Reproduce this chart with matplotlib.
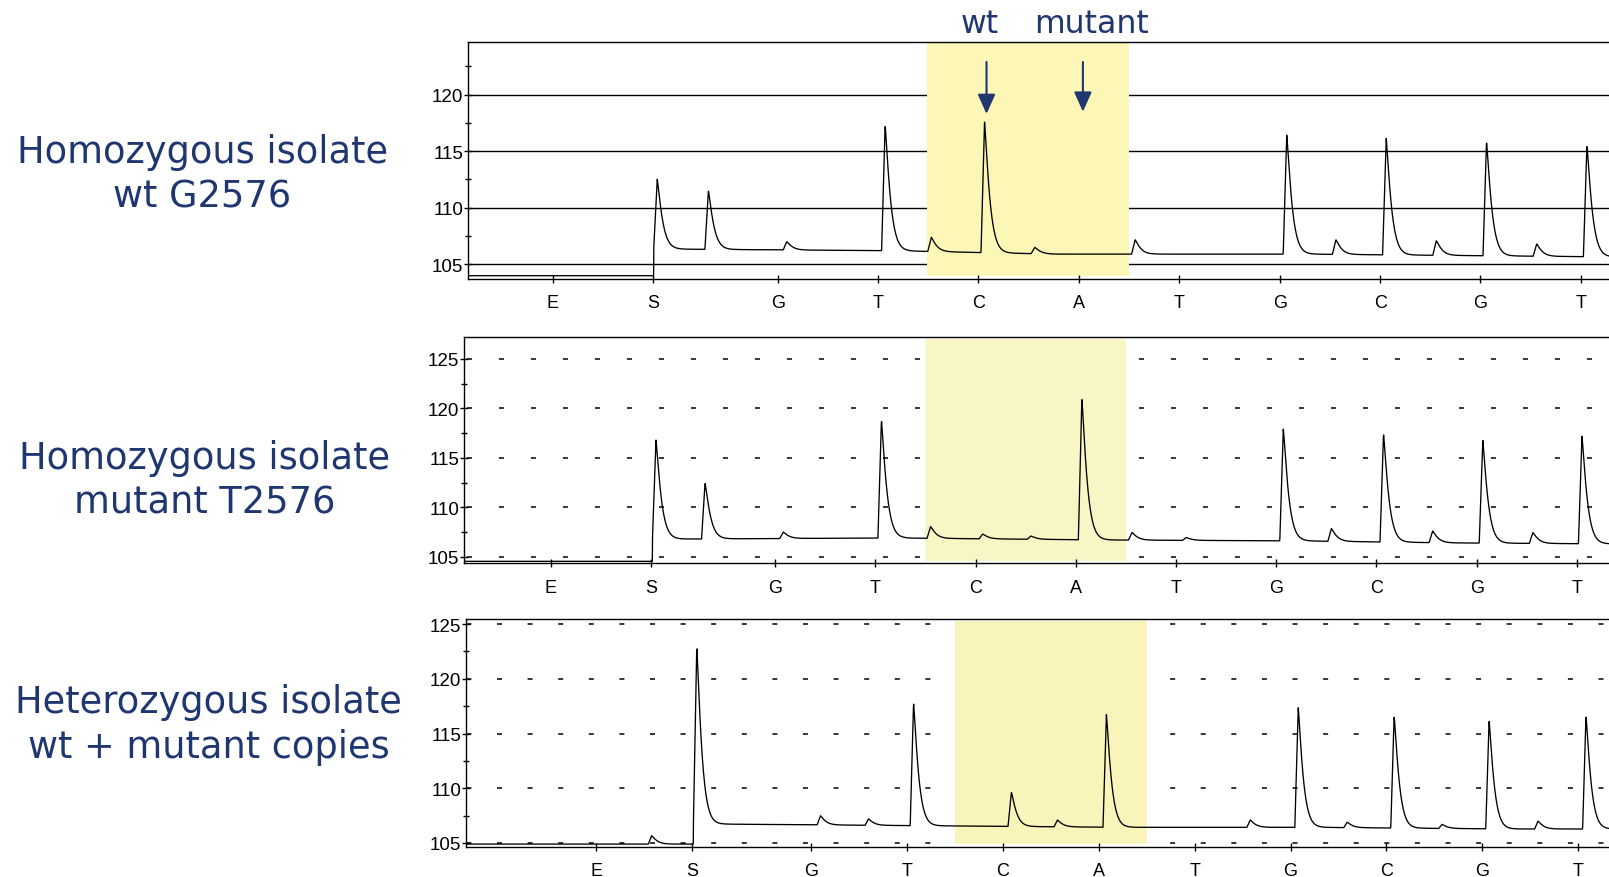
import numpy as np
import matplotlib
matplotlib.use("Agg")
import matplotlib.pyplot as plt
from matplotlib.ticker import MultipleLocator

plt.rcParams['lines.scale_dashes'] = False

navy = '#1f3670'

# dispensation order (x axis)
dispensation = ["E", "S", "G", "T", "C", "A", "T", "G", "C", "G", "T"]
disp_pos = [0, 1, 2.24, 3.24, 4.24, 5.24, 6.24, 7.24, 8.24, 9.24, 10.24]

row_labels = [("Homozygous isolate", "wt G2576"),
              ("Homozygous isolate", "mutant T2576"),
              ("Heterozygous isolate", "wt + mutant copies")]

# panel 1 - wt G2576 (apex position, apex value)
p1_peak_x = [1.04, 1.55, 2.33, 3.31, 3.77, 4.30, 4.80, 5.80, 7.31, 7.80, 8.30, 8.80, 9.30, 9.80, 10.30]
p1_peak_y = [112.54, 111.5, 107.0, 117.32, 107.39, 117.6, 106.5, 107.17, 116.43, 107.17, 116.23, 107.09, 115.84, 106.8, 115.55]
p1_pre = 103.99
p1_base_x = [1.1, 3.4, 5.0, 7.5, 10.6]
p1_base_y = [106.35, 106.2, 105.9, 105.9, 105.65]

# panel 2 - mutant T2576
p2_peak_x = [1.05, 1.54, 2.32, 3.30, 3.79, 4.31, 4.79, 5.30, 5.80, 6.34, 7.31, 7.79, 8.31, 8.80, 9.30, 9.80, 10.29]
p2_peak_y = [116.8, 112.47, 107.5, 118.8, 108.05, 107.3, 107.1, 121.0, 107.45, 106.95, 117.9, 107.85, 117.4, 107.6, 116.8, 107.45, 117.2]
p2_pre = 104.54
p2_base_x = [1.1, 3.4, 5.5, 7.5, 9.0, 10.6]
p2_base_y = [106.78, 106.9, 106.7, 106.6, 106.4, 106.3]

# panel 3 - wt + mutant
p3_peak_x = [0.58, 1.05, 2.34, 2.84, 3.31, 4.33, 4.81, 5.32, 6.82, 7.32, 7.83, 8.32, 8.82, 9.31, 9.82, 10.32]
p3_peak_y = [105.67, 122.93, 107.49, 107.2, 117.79, 109.63, 107.1, 116.78, 107.1, 117.39, 106.9, 116.63, 106.7, 116.17, 107.0, 116.63]
p3_pre = 104.9
p3_base_x = [1.1, 3.4, 5.5, 7.5, 9.5, 10.6]
p3_base_y = [106.74, 106.58, 106.43, 106.43, 106.28, 106.28]

RISE = 0.035
TAU = 0.059


def pyro_trace(x, pre, base_x, base_y, peak_x, peak_y):
    onset = peak_x[np.argmax(np.array(peak_x) > 0.9)] - RISE
    base = np.where(x < onset, pre, np.interp(x, base_x, base_y))
    y = base.copy()
    for px, py in zip(peak_x, peak_y):
        b = pre if px - RISE < onset else np.interp(px, base_x, base_y)
        t = x - px
        decay = np.exp(-(np.clip(t, 0, None) / TAU) ** 1.2)
        shape = np.where(t < -RISE, 0.0, np.where(t < 0, 1 + t / RISE, decay))
        y = y + (py - b) * shape
    return y


fig = plt.figure(figsize=(16.09, 8.78), dpi=100)

panels = [
    dict(rect=[0.2909, 0.6811, 0.7091, 0.2703], xlim=(-0.844, 10.52), ylim=(103.70, 124.69),
         yticks=[105, 110, 115, 120], pre=p1_pre, bx=p1_base_x, by=p1_base_y,
         px=p1_peak_x, py=p1_peak_y, span=(3.73, 5.74), yellow='#fcf7b6',
         grid='solid', period=None, offset=None, lab_y=(162.7, 207), lab_x=202.5),
    dict(rect=[0.2884, 0.3573, 0.7116, 0.2574], xlim=(-0.865, 10.56), ylim=(104.34, 127.18),
         yticks=[105, 110, 115, 120, 125], pre=p2_pre, bx=p2_base_x, by=p2_base_y,
         px=p2_peak_x, py=p2_peak_y, span=(3.73, 5.74), yellow='#f9f6c6',
         grid='dash', period=23.04, offset=20.9, lab_y=(469, 513.5), lab_x=205),
    dict(rect=[0.2896, 0.0345, 0.7104, 0.2593], xlim=(-1.356, 10.56), ylim=(104.66, 125.46),
         yticks=[105, 110, 115, 120, 125], pre=p3_pre, bx=p3_base_x, by=p3_base_y,
         px=p3_peak_x, py=p3_peak_y, span=(3.74, 5.74), yellow='#f8f4ba',
         grid='dash', period=22.03, offset=21.74, lab_y=(713.5, 758.5), lab_x=208.8),
]

axes = []
for i, p in enumerate(panels):
    ax = fig.add_axes(p['rect'])
    axes.append(ax)
    ax.set_xlim(p['xlim'])
    ax.set_ylim(p['ylim'])
    for s in ['left', 'bottom', 'top']:
        ax.spines[s].set_linewidth(1.0)
    ax.spines['right'].set_visible(False)

    for yv in p['yticks']:
        if p['grid'] == 'solid':
            ax.axhline(yv, color='black', lw=1.0, zorder=1)
        else:
            ax.axhline(yv, color='black', lw=1.1, zorder=1,
                       linestyle=(p['offset'], (3.6, p['period'] - 3.6)))

    ax.axvspan(p['span'][0], p['span'][1], ymin=0.012, ymax=0.993,
               color=p['yellow'], lw=0, zorder=1.5)

    x = np.linspace(p['xlim'][0], p['xlim'][1], 5000)
    y = pyro_trace(x, p['pre'], p['bx'], p['by'], p['px'], p['py'])
    ax.plot(x, y, color='black', lw=0.95, zorder=3)

    ax.set_yticks(p['yticks'])
    ax.yaxis.set_minor_locator(MultipleLocator(2.5))
    ax.set_xticks(disp_pos, dispensation)
    ax.tick_params(axis='y', which='major', direction='inout', length=6, width=1,
                   pad=0.5, labelsize=13.5)
    ax.tick_params(axis='y', which='minor', direction='inout', length=5, width=1)
    ax.tick_params(axis='x', which='major', direction='inout', length=6, width=1,
                   pad=8, labelsize=13)
    for lab in ax.get_xticklabels() + ax.get_yticklabels():
        lab.set_fontfamily('Liberation Sans')

    l1, l2 = row_labels[i]
    fig.text(p['lab_x'] / 1609, 1 - p['lab_y'][0] / 878, l1, ha='center', va='baseline',
             fontsize=26.5, color=navy)
    fig.text(p['lab_x'] / 1609, 1 - p['lab_y'][1] / 878, l2, ha='center', va='baseline',
             fontsize=26.5, color=navy)

# wt / mutant markers on the first panel
ax1 = axes[0]
ax1.text(4.25, 125.55, "wt", ha='center', va='baseline', fontsize=22.7, color=navy)
ax1.text(5.37, 125.55, "mutant", ha='center', va='baseline', fontsize=22.7, color=navy)
for ax_x, tip in [(4.32, 118.3), (5.28, 118.5)]:
    ax1.annotate("", xy=(ax_x, tip), xytext=(ax_x, 122.9),
                 arrowprops=dict(arrowstyle="-|>,head_length=0.6,head_width=0.27",
                                 color=navy, lw=1.5, mutation_scale=20,
                                 shrinkA=0, shrinkB=0), zorder=4)

fig.savefig("out.png", dpi=100)
